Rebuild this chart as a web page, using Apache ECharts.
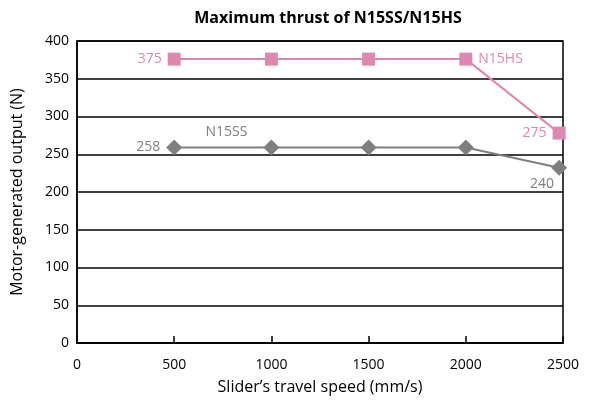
<!DOCTYPE html>
<html>
<head>
<meta charset="utf-8">
<script src="https://cdn.jsdelivr.net/npm/echarts@6/dist/echarts.min.js"></script>
<style>html,body{margin:0;padding:0;background:#fff}#c{width:589px;height:402px}</style>
</head>
<body>
<div id="c"></div>
<script>
var speeds = [500, 1000, 1500, 2000, 2480];
var hsValues = [376, 376, 376, 376, 278];
var ssValues = [259, 259, 259, 259, 232];
var hsLabels = ['375', '', '', 'N15HS', '275'];
var ssLabels = ['258', 'N15SS', '', '', '240'];
var yTicks = [0, 50, 100, 150, 200, 250, 300, 350, 400];
var xTicks = [0, 500, 1000, 1500, 2000, 2500];

var pink = '#dd88b1';
var gray = '#7f7f81';
var font = 'Open Sans';

var hsLabelCfg = [
  {position: 'left', distance: 6},
  null, null,
  {position: 'right', distance: 6},
  {position: 'left', distance: 6}
];
var ssLabelCfg = [
  {position: 'left', distance: 6},
  {position: 'top', distance: 4, offset: [-45, 4]},
  null, null,
  {position: 'bottom', distance: 1, offset: [-17, 0]}
];

function build(vals, labels, cfg, color) {
  return speeds.map(function (x, i) {
    var item = {value: [x, vals[i]]};
    if (labels[i]) {
      var c = cfg[i];
      item.label = Object.assign({
        show: true,
        formatter: labels[i],
        color: color,
        fontSize: 14,
        fontFamily: font
      }, c);
    }
    return item;
  });
}

var chart = echarts.init(document.getElementById('c'));
chart.setOption({
  animation: false,
  title: {
    text: 'Maximum thrust of N15SS/N15HS',
    left: 323, textAlign: 'center', top: 5,
    textStyle: {fontSize: 16, fontWeight: 'bold', color: '#000', fontFamily: font}
  },
  grid: {
    left: 77, right: 26, top: 41, bottom: 59,
    show: true, borderColor: '#000', borderWidth: 1.5, backgroundColor: 'transparent'
  },
  xAxis: {
    type: 'value', min: 0, max: 2500, interval: 500,
    name: 'Slider\u2019s travel speed (mm/s)', nameLocation: 'middle', nameGap: 36,
    nameTextStyle: {fontSize: 16, color: '#000', fontFamily: font},
    axisLine: {show: true, lineStyle: {color: '#000', width: 1.5}},
    axisTick: {show: true, inside: true, length: 7, lineStyle: {color: '#000', width: 1.5}},
    axisLabel: {color: '#000', fontSize: 14, fontFamily: font, margin: 15,
      formatter: function (v) { return xTicks.indexOf(v) >= 0 ? String(v) : ''; }},
    splitLine: {show: false}
  },
  yAxis: {
    type: 'value', min: 0, max: 400, interval: 50,
    name: 'Motor-generated output (N)', nameLocation: 'middle', nameGap: 52,
    nameTextStyle: {fontSize: 16, color: '#000', fontFamily: font},
    axisLine: {show: true, lineStyle: {color: '#000', width: 1.5}},
    axisTick: {show: false},
    axisLabel: {color: '#000', fontSize: 14, fontFamily: font, margin: 8,
      formatter: function (v) { return yTicks.indexOf(v) >= 0 ? String(v) : ''; }},
    splitLine: {show: true, lineStyle: {color: '#000', width: 1.5}}
  },
  series: [
    {
      name: 'N15HS', type: 'line',
      data: build(hsValues, hsLabels, hsLabelCfg, pink),
      symbol: 'rect', symbolSize: 13,
      lineStyle: {color: pink, width: 2},
      itemStyle: {color: pink},
      z: 3
    },
    {
      name: 'N15SS', type: 'line',
      data: build(ssValues, ssLabels, ssLabelCfg, gray),
      symbol: 'diamond', symbolSize: 16,
      lineStyle: {color: gray, width: 2},
      itemStyle: {color: gray},
      z: 3
    }
  ]
});
</script>
</body>
</html>
